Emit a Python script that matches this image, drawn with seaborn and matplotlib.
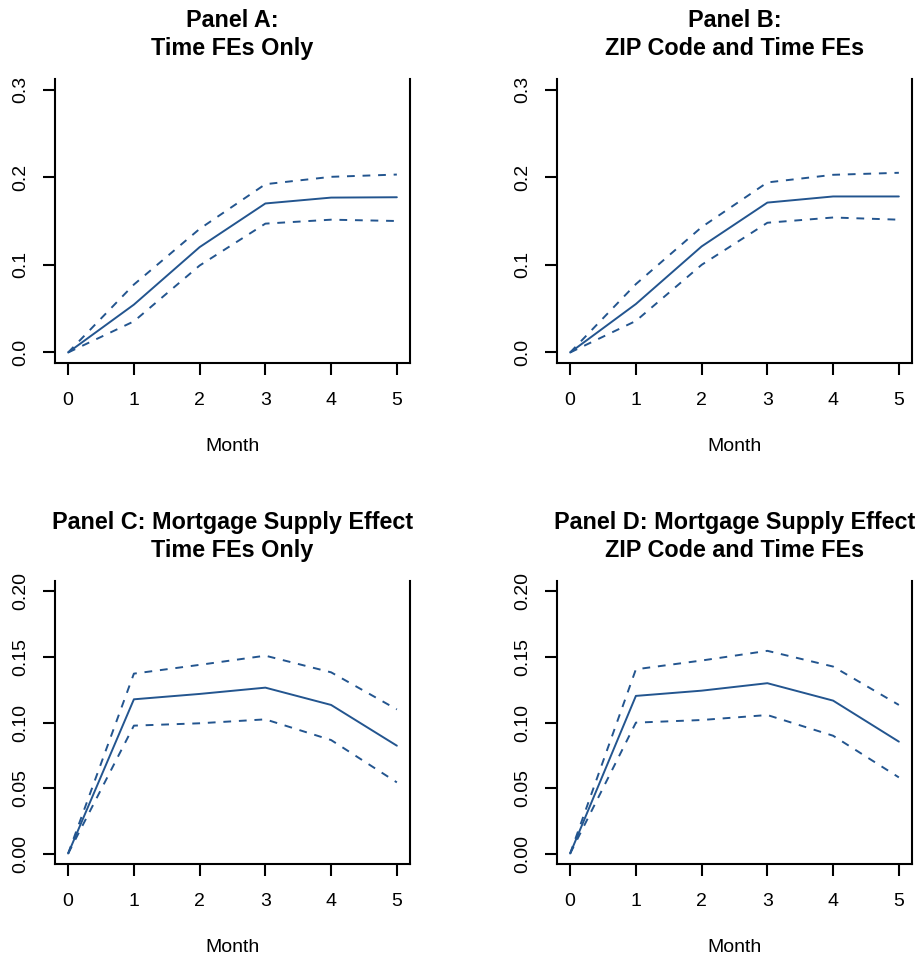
import matplotlib
matplotlib.use("Agg")
import matplotlib.pyplot as plt
import seaborn as sns
import numpy as np

# Data
months = [0, 1, 2, 3, 4, 5]

a_est = [0.0, 0.0546, 0.1202, 0.1700, 0.1767, 0.1771]
a_hi = [0.0, 0.0775, 0.1410, 0.1920, 0.2004, 0.2030]
a_lo = [0.0, 0.0355, 0.0992, 0.1470, 0.1515, 0.1500]

b_est = [0.0, 0.0553, 0.1210, 0.1710, 0.1780, 0.1780]
b_hi = [0.0, 0.0780, 0.1430, 0.1940, 0.2027, 0.2050]
b_lo = [0.0, 0.0360, 0.1000, 0.1480, 0.1540, 0.1515]

c_est = [0.0, 0.1177, 0.1218, 0.1266, 0.1134, 0.0823]
c_hi = [0.0, 0.1373, 0.1440, 0.1510, 0.1383, 0.1100]
c_lo = [0.0, 0.0976, 0.0994, 0.1024, 0.0866, 0.0543]

d_est = [0.0, 0.1203, 0.1243, 0.1300, 0.1167, 0.0854]
d_hi = [0.0, 0.1406, 0.1473, 0.1547, 0.1427, 0.1134]
d_lo = [0.0, 0.0999, 0.1019, 0.1057, 0.0899, 0.0581]

titles = ["Panel A:\nTime FEs Only",
          "Panel B:\nZIP Code and Time FEs",
          "Panel C: Mortgage Supply Effect\nTime FEs Only",
          "Panel D: Mortgage Supply Effect\nZIP Code and Time FEs"]

top_ticks = [0.0, 0.1, 0.2, 0.3]
top_labels = ["0.0", "0.1", "0.2", "0.3"]
bot_ticks = [0.00, 0.05, 0.10, 0.15, 0.20]
bot_labels = ["0.00", "0.05", "0.10", "0.15", "0.20"]

sns.set_style("white")
plt.rcParams['font.family'] = ['Liberation Sans', 'DejaVu Sans']
plt.rcParams['text.color'] = 'black'
plt.rcParams['axes.labelcolor'] = 'black'
plt.rcParams['xtick.color'] = 'black'
plt.rcParams['ytick.color'] = 'black'

color = "#23558F"
W, H = 923, 960
fig = plt.figure(figsize=(W / 100, H / 100), dpi=100)

# axes boxes in pixels: left, top, right, bottom
boxes = [(55, 79, 410, 363), (557, 79, 912, 363),
         (55, 581, 410, 864), (557, 581, 912, 864)]
series = [(a_est, a_hi, a_lo), (b_est, b_hi, b_lo),
          (c_est, c_hi, c_lo), (d_est, d_hi, d_lo)]

for i, ((l, t, r, b), (est, hi, lo)) in enumerate(zip(boxes, series)):
    ax = fig.add_axes([l / W, 1 - b / H, (r - l) / W, (b - t) / H])
    sns.lineplot(x=months, y=est, ax=ax, color=color, lw=1.4)
    sns.lineplot(x=months, y=hi, ax=ax, color=color, lw=1.4, linestyle=(0, (4, 4)))
    sns.lineplot(x=months, y=lo, ax=ax, color=color, lw=1.4, linestyle=(0, (4, 4)))

    ax.set_xlim(-0.2, 5.2)
    ax.set_xticks(months)
    if i < 2:
        ax.set_ylim(-0.012, 0.312)
        ax.set_yticks(top_ticks)
        ax.set_yticklabels(top_labels, rotation=90, va='center')
    else:
        ax.set_ylim(-0.008, 0.208)
        ax.set_yticks(bot_ticks)
        ax.set_yticklabels(bot_labels, rotation=90, va='center')

    ax.spines['top'].set_visible(False)
    for s in ['left', 'right', 'bottom']:
        ax.spines[s].set_linewidth(1.5)
        ax.spines[s].set_color('black')
    ax.tick_params(axis='both', direction='out', length=8.6, width=1.5,
                   labelsize=14, color='black', bottom=True, left=True)
    ax.tick_params(axis='x', pad=12)
    ax.tick_params(axis='y', pad=10)
    ax.set_xlabel("Month", fontsize=14, labelpad=21)
    ax.set_ylabel("")
    ax.set_title(titles[i], fontsize=16.8, fontweight='bold', pad=17, linespacing=1.28)

fig.savefig("out.png", dpi=100)
